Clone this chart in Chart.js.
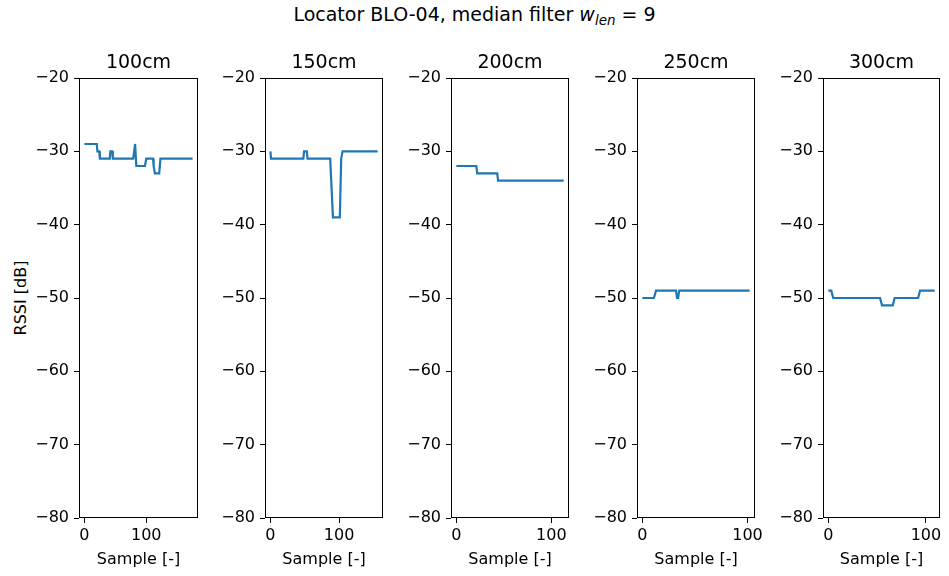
<!DOCTYPE html>
<html>
<head>
<meta charset="utf-8">
<script src="https://cdn.jsdelivr.net/npm/chart.js@4.4.1/dist/chart.umd.min.js"></script>
<style>
  body { margin: 0; background: #fff; width: 949px; height: 576px; overflow: hidden; position: relative;
         font-family: "DejaVu Sans", sans-serif; color: #000; }
  canvas { position: absolute; top: 1px; }
  #suptitle { position: absolute; top: 3px; left: 0; width: 949px; text-align: center; font-size: 19px; line-height: 22px; white-space: nowrap; }
  #suptitle sub { font-size: 13.5px; line-height: 0; vertical-align: -4px; }
  #ylabel { position: absolute; left: 20px; top: 298px; font-size: 16px; line-height: 19px; white-space: nowrap;
            transform: translate(-50%, -50%) rotate(-90deg); }
</style>
</head>
<body>
<div id="suptitle">Locator BLO-04, median filter <i>w</i><sub><i>len</i></sub> = 9</div>
<div id="ylabel">RSSI [dB]</div>

<script>
// Distances and their RSSI traces (median-filtered, window length 9)
const panelTitles = ['100cm', '150cm', '200cm', '250cm', '300cm'];
const sampleCounts = [176, 157, 114, 103, 110];
const yTicks = [-80, -70, -60, -50, -40, -30, -20];
const xTicks = [0, 100];

// Breakpoints of each trace: sample index and RSSI value [dB]
const samples100 = [0, 20, 21, 24, 25, 41, 42, 45, 46, 79, 82, 83, 84, 98, 100, 111, 112, 114, 121, 123, 175];
const rssi100    = [-29, -29, -30, -30, -31, -31, -30, -30, -31, -31, -29, -29, -32, -32, -31, -31, -32, -33, -33, -31, -31];

const samples150 = [0, 1, 48, 49, 53, 54, 87, 91, 101, 103, 105, 156];
const rssi150    = [-30, -31, -31, -30, -30, -31, -31, -39, -39, -31, -30, -30];

const samples200 = [0, 21, 22, 43, 44, 113];
const rssi200    = [-32, -32, -33, -33, -34, -34];

const samples250 = [0, 11, 13, 32, 33, 34, 35, 102];
const rssi250    = [-50, -50, -49, -49, -50, -50, -49, -49];

const samples300 = [0, 3, 5, 53, 55, 66, 68, 92, 94, 109];
const rssi300    = [-49, -49, -50, -50, -51, -51, -50, -50, -49, -49];

const traceSamples = [samples100, samples150, samples200, samples250, samples300];
const traceRssi = [rssi100, rssi150, rssi200, rssi250, rssi300];

// Panel geometry on the page
const plotLeft = [79, 265, 451, 637, 823];
const plotWidth = [119, 118, 118, 118, 117];
const AXIS_W = 60, RIGHT_PAD = 18, CANVAS_H = 575;

const minus = v => (v < 0 ? '\u2212' + Math.abs(v) : String(v));

// Closed black frame around each plot area
const frame = {
  id: 'frame',
  afterDraw(chart) {
    const { ctx, chartArea: a } = chart;
    ctx.save();
    ctx.strokeStyle = '#000';
    ctx.lineWidth = 1;
    ctx.strokeRect(a.left + 0.5, a.top + 0.5, a.right - a.left - 1, a.bottom - a.top - 1);
    ctx.restore();
  }
};

Chart.defaults.font.family = '"DejaVu Sans", sans-serif';
Chart.defaults.color = '#000';

panelTitles.forEach((title, i) => {
  const cv = document.createElement('canvas');
  const w = AXIS_W + plotWidth[i] + RIGHT_PAD;
  cv.width = w; cv.height = CANVAS_H;
  cv.style.width = w + 'px'; cv.style.height = CANVAS_H + 'px';
  cv.style.left = (plotLeft[i] - AXIS_W) + 'px';
  document.body.appendChild(cv);

  const last = sampleCounts[i] - 1;
  const points = traceSamples[i].map((s, k) => ({ x: s, y: traceRssi[i][k] }));

  new Chart(cv, {
    type: 'line',
    data: {
      datasets: [{
        data: points,
        borderColor: '#1f77b4',
        borderWidth: 2.2,
        pointRadius: 0,
        tension: 0,
        fill: false
      }]
    },
    options: {
      responsive: false,
      animation: false,
      devicePixelRatio: 1,
      layout: { padding: { left: 0, right: RIGHT_PAD, top: 0, bottom: 0 } },
      plugins: {
        legend: { display: false },
        tooltip: { enabled: false },
        title: {
          display: true,
          text: title,
          fullSize: false,
          font: { size: 19, weight: 'normal' },
          padding: { top: 51, bottom: 3.2 },
          color: '#000'
        }
      },
      scales: {
        x: {
          type: 'linear',
          min: -0.05 * last,
          max: 1.05 * last,
          afterBuildTicks: s => { s.ticks = xTicks.map(v => ({ value: v })); },
          afterFit: s => { s.height = 58; },
          ticks: { font: { size: 16 }, padding: 3, maxRotation: 0, color: '#000' },
          grid: { display: true, drawOnChartArea: false, drawTicks: true, tickLength: 5, color: '#000' },
          border: { display: false },
          title: { display: true, text: 'Sample [-]', font: { size: 16 }, padding: { top: 0, bottom: 6.4 }, color: '#000' }
        },
        y: {
          type: 'linear',
          min: -80,
          max: -20,
          afterBuildTicks: s => { s.ticks = yTicks.map(v => ({ value: v })); },
          afterFit: s => { s.width = AXIS_W; },
          ticks: { font: { size: 16 }, padding: 5, callback: v => minus(v), color: '#000' },
          grid: { display: true, drawOnChartArea: false, drawTicks: true, tickLength: 5, color: '#000' },
          border: { display: false }
        }
      }
    },
    plugins: [frame]
  });
});
</script>
</body>
</html>
